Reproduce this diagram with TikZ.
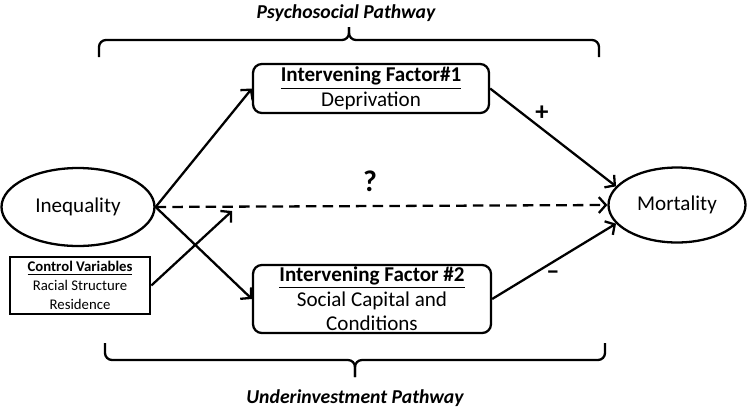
\documentclass[tikz,border=0pt]{standalone}
\usepackage{fontspec}
\setmainfont{Carlito}
\usetikzlibrary{shapes.geometric,arrows.meta}

\begin{document}
\begin{tikzpicture}[x=0.02cm,y=-0.02cm,
	line width=1.3pt,
	>={Straight Barb[length=4pt,width=9pt]},
	txt/.style={font=\fontsize{12}{14}\selectfont},
	oval/.style={ellipse, draw, txt, inner sep=0pt},
	factor/.style={rectangle, rounded corners=5pt, draw, txt, align=center, inner sep=0pt},
	ctrlbox/.style={rectangle, draw, line width=1.5pt, align=center, inner sep=0pt, font=\fontsize{8.4}{11}\selectfont},
	sign/.style={font=\fontsize{15}{15}\selectfont\bfseries},
	pathlabel/.style={font=\fontsize{11.2}{14}\selectfont\bfseries\itshape}]
	\useasboundingbox (0,0) rectangle (750,413);
	
	% variables
	\node[oval, minimum width=3.06cm, minimum height=1.56cm] (ineq) at (78,207) {Inequality};
	\node[oval, minimum width=2.74cm, minimum height=1.5cm] (mort) at (677,205) {Mortality};
	\node[ctrlbox, minimum width=2.8cm, minimum height=1.14cm] (ctrl) at (80,285.5)
		{\underline{\textbf{Control Variables}}\\Racial Structure\\Residence};
	
	% intervening factors
	\node[factor, minimum width=4.72cm, minimum height=0.98cm] (fone) at (371,88.5)
		{\underline{\textbf{Intervening Factor\#1}}\\Deprivation};
	\node[factor, minimum width=4.76cm, minimum height=1.36cm] (ftwo) at (372,299)
		{\underline{\textbf{Intervening Factor \#2}}\\Social Capital and\\Conditions};
	
	\coordinate (hit) at (232,211);
	
	\draw[->] (ineq.east) -- (fone.west);
	\draw[->] (ineq.east) -- (ftwo.west);
	\draw[->, dashed, dash pattern=on 6pt off 3.5pt] (ineq.east) -- (mort.west);
	\draw[->] (ctrl.east) -- (hit);
	\draw[->] (fone.east) -- (mort.163);
	\draw[->] (ftwo.east) -- (mort.197);
	
	% signs
	\node[sign, font=\fontsize{17}{17}\selectfont\bfseries] (q) at (370,181) {?};
	\node[sign] (plus) at (542,113) {+};
	\node[sign] (minus) at (553,275) {--};
	
	% pathway brackets
	\draw[rounded corners=4pt] (99,57) -- (99,40) -- (349,40) -- (349,27);
	\draw[rounded corners=4pt] (349,27) -- (349,40) -- (599,40) -- (599,57);
	\node[pathlabel] (psy) at (346,13) {Psychosocial Pathway};
	
	\draw[rounded corners=4pt] (105,343) -- (105,360) -- (355,360) -- (355,377);
	\draw[rounded corners=4pt] (355,377) -- (355,360) -- (605,360) -- (605,343);
	\node[pathlabel] (under) at (355,398) {Underinvestment Pathway};
	
\end{tikzpicture}
\end{document}
